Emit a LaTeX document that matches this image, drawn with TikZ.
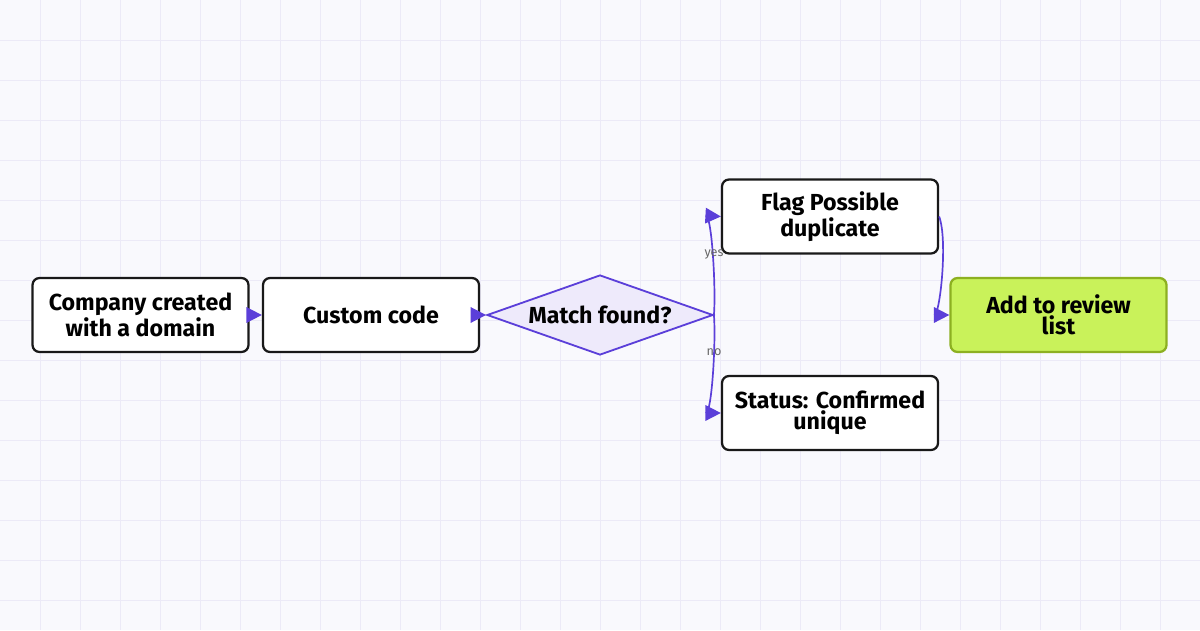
\documentclass[tikz,border=0pt]{standalone}
\usepackage{fontspec}
\setmainfont{Fira Sans}
\usetikzlibrary{shapes.geometric,arrows.meta}
\definecolor{bg}{HTML}{F9F9FD}
\definecolor{gridc}{HTML}{ECEAF7}
\definecolor{purp}{HTML}{5B3FD9}
\definecolor{dfill}{HTML}{EEEAFB}
\definecolor{gfill}{HTML}{C9F25A}
\definecolor{gdraw}{HTML}{8DB021}
\definecolor{lbl}{HTML}{666666}
\tikzset{
  box/.style={draw=black!90,line width=1.6pt,rounded corners=5pt,fill=white,minimum width=216*0.025cm,minimum height=74*0.025cm,font=\bfseries\fontsize{16.5}{13.5}\selectfont,align=center,inner sep=0pt},
  dec/.style={diamond,aspect=2.8,draw=purp,line width=1.3pt,fill=dfill,minimum width=226*0.025cm,minimum height=80*0.025cm,inner sep=0pt,font=\bfseries\fontsize{16.5}{13.5}\selectfont},
  conn/.style={draw=purp,line width=1.2pt,-{Triangle[length=11pt,width=11pt,fill=purp]}},
  elab/.style={font=\fontsize{9}{10}\selectfont,text=lbl}
}
\begin{document}
\begin{tikzpicture}[x=0.025cm,y=-0.025cm]
\fill[bg] (0,0) rectangle (1200,630);
\useasboundingbox (0,0) rectangle (1200,630);
\foreach \i in {40,80,...,1160} \draw[gridc,line width=0.6pt] (\i,0) -- (\i,630);
\foreach \j in {40,80,...,600} \draw[gridc,line width=0.6pt] (0,\j) -- (1200,\j);
\node[box] (a) at (140.5,315) {Company created\\with a domain};
\node[box] (b) at (371,315) {Custom code};
\node[dec] (d) at (600,315) {Match found?};
\node[box] (f) at (830,216.5) {Flag Possible\\duplicate};
\node[box] (s) at (830,413) {Status: Confirmed\\unique};
\node[box,fill=gfill,draw=gdraw] (r) at (1058.5,315) {Add to review\\list};
\draw[conn] (a) -- (b);
\draw[conn] (b) -- (d.west);
\draw[conn] (d.east) .. controls (716,290) and (712,216) .. (f.west);
\draw[conn] (d.east) .. controls (716,340) and (712,413) .. (s.west);
\draw[conn] (f.east) .. controls (948,240) and (940,315) .. (r.west);
\node[elab] (y) at (714,254) {yes};
\node[elab] (n) at (714,352) {no};
\end{tikzpicture}
\end{document}
